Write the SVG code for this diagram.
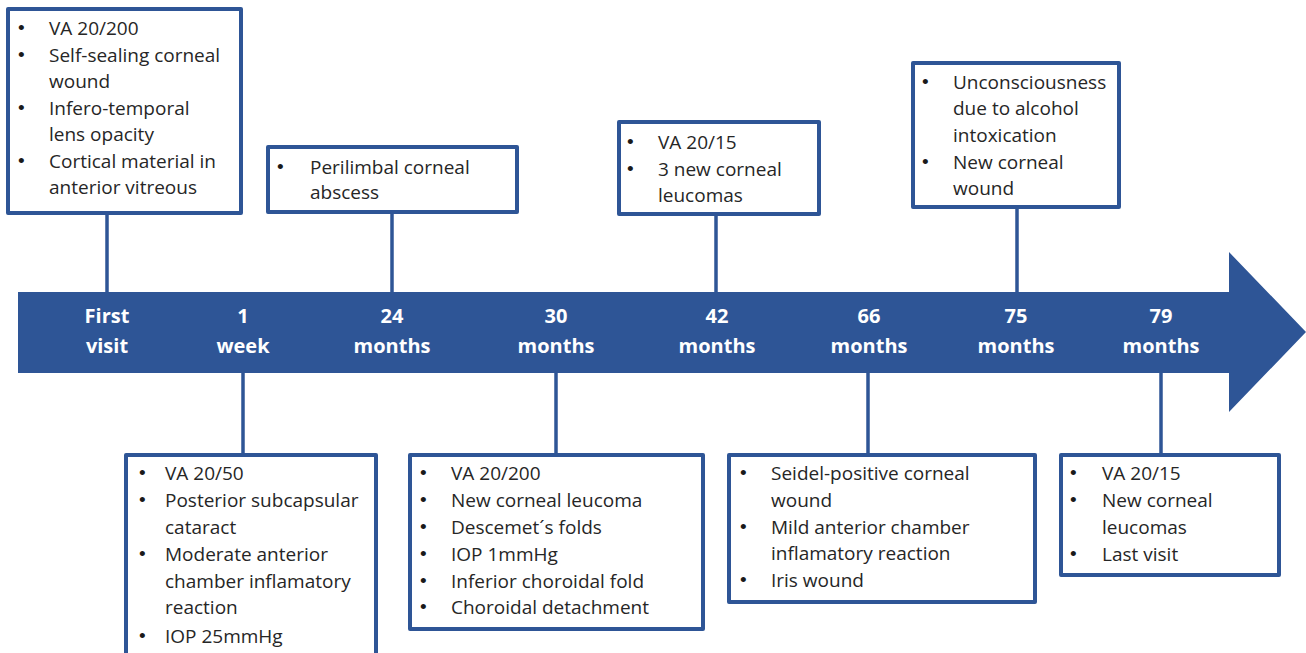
<svg xmlns="http://www.w3.org/2000/svg" width="1306" height="653" viewBox="0 0 1306 653">
<style>
.box{fill:#fff;stroke:#2E5596;stroke-width:4;stroke-linejoin:round}
.con{stroke:#2E5596;stroke-width:3.5;fill:none}
.t{font-family:"Open Sans","Liberation Sans",sans-serif;font-size:19px;fill:#262626}
.b{font-family:"Liberation Sans","Open Sans",sans-serif;font-size:19px;fill:#1a1a1a}
.lbl{font-family:"Open Sans","Liberation Sans",sans-serif;font-size:20px;font-weight:bold;fill:#fff;text-anchor:middle}
</style>
<rect width="1306" height="653" fill="#fff"/>
<g id="connectors">
<line class="con" x1="107" y1="213" x2="107" y2="294"/>
<line class="con" x1="392" y1="212" x2="392" y2="294"/>
<line class="con" x1="716" y1="214" x2="716" y2="294"/>
<line class="con" x1="1017" y1="207" x2="1017" y2="294"/>
<line class="con" x1="243" y1="371" x2="243" y2="455"/>
<line class="con" x1="556" y1="371" x2="556" y2="455"/>
<line class="con" x1="868" y1="371" x2="868" y2="455"/>
<line class="con" x1="1161" y1="371" x2="1161" y2="455"/>
</g>
<g id="timeline">
<path d="M18 292 H1229 V252 L1306 332 L1229 412 V373 H18 Z" fill="#2E5596"/>
<text class="lbl" x="107" y="323">First</text><text class="lbl" x="107" y="353">visit</text>
<text class="lbl" x="243" y="323">1</text><text class="lbl" x="243" y="353">week</text>
<text class="lbl" x="392" y="323">24</text><text class="lbl" x="392" y="353">months</text>
<text class="lbl" x="556" y="323">30</text><text class="lbl" x="556" y="353">months</text>
<text class="lbl" x="717" y="323">42</text><text class="lbl" x="717" y="353">months</text>
<text class="lbl" x="869" y="323">66</text><text class="lbl" x="869" y="353">months</text>
<text class="lbl" x="1016" y="323">75</text><text class="lbl" x="1016" y="353">months</text>
<text class="lbl" x="1161" y="323">79</text><text class="lbl" x="1161" y="353">months</text>
</g>
<g id="box-first-visit">
<rect class="box" x="8" y="9" width="233" height="204"/>
<text class="b" x="18" y="34">•</text><text class="t" x="49" y="35">VA 20/200</text>
<text class="b" x="18" y="61">•</text><text class="t" x="49" y="62">Self-sealing corneal</text>
<text class="t" x="49" y="88">wound</text>
<text class="b" x="18" y="114">•</text><text class="t" x="49" y="115">Infero-temporal</text>
<text class="t" x="49" y="141">lens opacity</text>
<text class="b" x="18" y="167">•</text><text class="t" x="49" y="168">Cortical material in</text>
<text class="t" x="49" y="194">anterior vitreous</text>
</g>
<g id="box-24-months">
<rect class="box" x="268" y="147" width="249" height="65"/>
<text class="b" x="277" y="173">•</text><text class="t" x="310" y="174">Perilimbal corneal</text>
<text class="t" x="310" y="199">abscess</text>
</g>
<g id="box-42-months">
<rect class="box" x="619" y="122" width="200" height="92"/>
<text class="b" x="627" y="148">•</text><text class="t" x="658" y="149">VA 20/15</text>
<text class="b" x="627" y="175">•</text><text class="t" x="658" y="176">3 new corneal</text>
<text class="t" x="658" y="202">leucomas</text>
</g>
<g id="box-75-months">
<rect class="box" x="913" y="63" width="206" height="144"/>
<text class="b" x="922" y="88">•</text><text class="t" x="953" y="89">Unconsciousness</text>
<text class="t" x="953" y="115">due to alcohol</text>
<text class="t" x="953" y="142">intoxication</text>
<text class="b" x="922" y="168">•</text><text class="t" x="953" y="169">New corneal</text>
<text class="t" x="953" y="195">wound</text>
</g>
<g id="box-1-week">
<rect class="box" x="126" y="455" width="250" height="230"/>
<text class="b" x="139" y="479">•</text><text class="t" x="165" y="480">VA 20/50</text>
<text class="b" x="139" y="506">•</text><text class="t" x="165" y="507">Posterior subcapsular</text>
<text class="t" x="165" y="534">cataract</text>
<text class="b" x="139" y="560">•</text><text class="t" x="165" y="561">Moderate anterior</text>
<text class="t" x="165" y="588">chamber inflamatory</text>
<text class="t" x="165" y="614">reaction</text>
<text class="b" x="139" y="642">•</text><text class="t" x="165" y="643">IOP 25mmHg</text>
</g>
<g id="box-30-months">
<rect class="box" x="410" y="455" width="293" height="174"/>
<text class="b" x="420" y="479">•</text><text class="t" x="451" y="480">VA 20/200</text>
<text class="b" x="420" y="506">•</text><text class="t" x="451" y="507">New corneal leucoma</text>
<text class="b" x="420" y="533">•</text><text class="t" x="451" y="534">Descemet´s folds</text>
<text class="b" x="420" y="560">•</text><text class="t" x="451" y="561">IOP 1mmHg</text>
<text class="b" x="420" y="587">•</text><text class="t" x="451" y="588">Inferior choroidal fold</text>
<text class="b" x="420" y="613">•</text><text class="t" x="451" y="614">Choroidal detachment</text>
</g>
<g id="box-66-months">
<rect class="box" x="729" y="455" width="306" height="147"/>
<text class="b" x="740" y="479">•</text><text class="t" x="771" y="480">Seidel-positive corneal</text>
<text class="t" x="771" y="507">wound</text>
<text class="b" x="740" y="533">•</text><text class="t" x="771" y="534">Mild anterior chamber</text>
<text class="t" x="771" y="560">inflamatory reaction</text>
<text class="b" x="740" y="586">•</text><text class="t" x="771" y="587">Iris wound</text>
</g>
<g id="box-79-months">
<rect class="box" x="1061" y="455" width="218" height="120"/>
<text class="b" x="1070" y="479">•</text><text class="t" x="1102" y="480">VA 20/15</text>
<text class="b" x="1070" y="506">•</text><text class="t" x="1102" y="507">New corneal</text>
<text class="t" x="1102" y="534">leucomas</text>
<text class="b" x="1070" y="560">•</text><text class="t" x="1102" y="561">Last visit</text>
</g>
</svg>
